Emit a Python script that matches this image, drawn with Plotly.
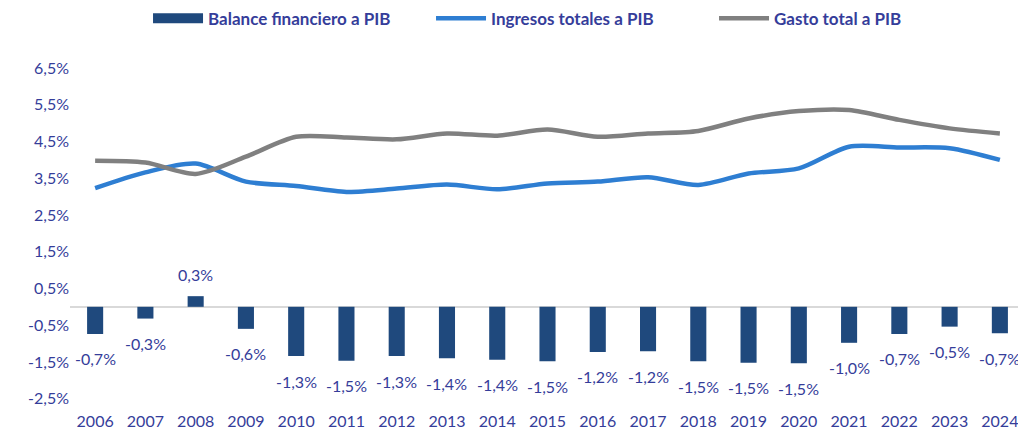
import plotly.graph_objects as go

years = [str(y) for y in range(2006, 2025)]
balance = [-0.74, -0.32, 0.29, -0.60, -1.34, -1.47, -1.34, -1.40, -1.44, -1.48,
           -1.23, -1.21, -1.48, -1.52, -1.54, -0.98, -0.74, -0.54, -0.72]
ingresos = [3.23, 3.66, 3.90, 3.41, 3.29, 3.13, 3.22, 3.33, 3.20, 3.36,
            3.41, 3.53, 3.32, 3.63, 3.77, 4.36, 4.34, 4.32, 4.00]
gasto = [3.98, 3.93, 3.62, 4.09, 4.63, 4.61, 4.56, 4.72, 4.66, 4.83,
         4.63, 4.72, 4.79, 5.13, 5.33, 5.36, 5.09, 4.86, 4.72]
y_ticks = [-2.5, -1.5, -0.5, 0.5, 1.5, 2.5, 3.5, 4.5, 5.5, 6.5]

TXT = "#353D9A"
BAR = "#1F497D"
BLUE = "#2E7ED2"
GREY = "#808080"
FONT = "Lato, 'Open Sans', sans-serif"

def fmt(v):
    return f"{v:.1f}".replace(".", ",") + "%"

xi = list(range(len(years)))

fig = go.Figure()
fig.add_trace(go.Bar(x=xi, y=balance, marker=dict(color=BAR, line=dict(width=0)),
                     showlegend=False, name="Balance financiero a PIB"))
# legend stand-in for the bar series (wide swatch)
fig.add_trace(go.Scatter(x=[None], y=[None], mode="lines", name="Balance financiero a PIB",
                         line=dict(color=BAR, width=10)))
fig.add_trace(go.Scatter(x=xi, y=ingresos, mode="lines", name="Ingresos totales a PIB",
                         line=dict(color=BLUE, width=4.5, shape="spline", smoothing=0.8)))
fig.add_trace(go.Scatter(x=xi, y=gasto, mode="lines", name="Gasto total a PIB",
                         line=dict(color=GREY, width=4.5, shape="spline", smoothing=0.8)))

for i, v in zip(xi, balance):
    fig.add_annotation(x=i, y=v, text=fmt(v), showarrow=False,
                       yshift=22 if v > 0 else -25,
                       font=dict(size=16, color=TXT, family=FONT))

fig.update_layout(
    width=1018, height=429,
    margin=dict(l=62, r=1, t=37, b=27, autoexpand=False),
    paper_bgcolor="white", plot_bgcolor="white",
    bargap=0.68,
    font=dict(family=FONT, color=TXT, size=16),
    legend=dict(orientation="h", xanchor="left", x=0.0817, yanchor="middle", y=1.072,
                font=dict(size=17, color=TXT, family=FONT, weight="bold"),
                itemwidth=50, entrywidth=218, tracegroupgap=0, bgcolor="rgba(0,0,0,0)"),
    xaxis=dict(range=[-0.5, len(years) - 0.5], tickvals=xi, ticktext=years,
               showgrid=False, showline=False, zeroline=False, ticks="",
               tickfont=dict(size=16, color=TXT)),
    yaxis=dict(range=[-2.81, 7.13], tickvals=y_ticks, ticktext=[fmt(v) for v in y_ticks],
               showgrid=False, showline=False, zeroline=True, zerolinecolor="#D9D9D9",
               zerolinewidth=2, ticks="", tickfont=dict(size=16, color=TXT)),
)

fig.write_html("out.html")
